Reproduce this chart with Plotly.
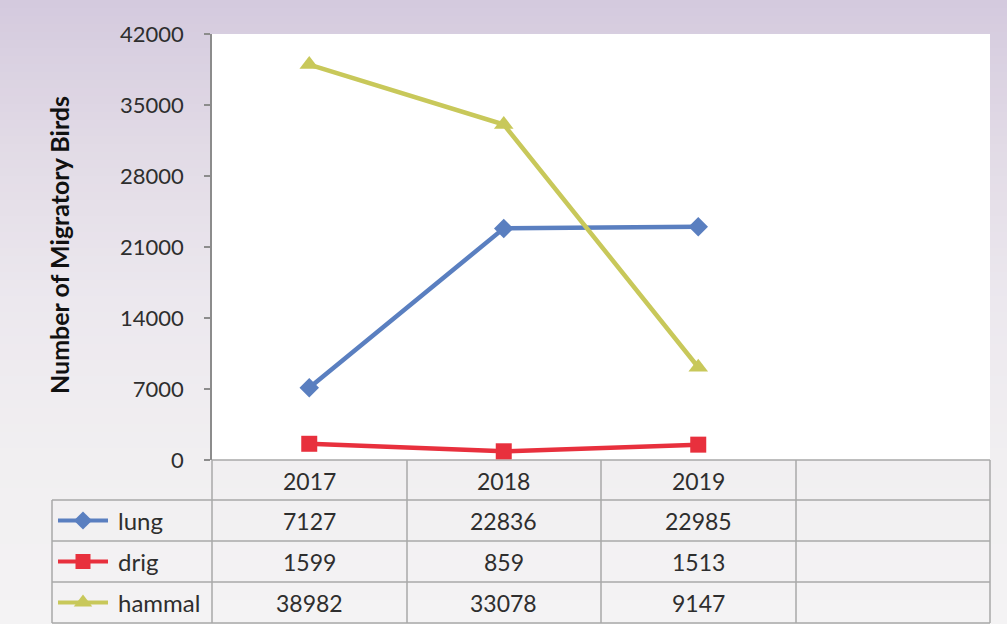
import plotly.graph_objects as go

years = ["2017", "2018", "2019"]
lung = [7127, 22836, 22985]
drig = [1599, 859, 1513]
hammal = [38982, 33078, 9147]
series_names = ["lung", "drig", "hammal"]
y_ticks = [0, 7000, 14000, 21000, 28000, 35000, 42000]
y_title = "Number of Migratory Birds"

W, H = 1007, 624
PX0, PX1, PY0, PY1 = 212, 990, 34, 460  # plot area in pixels
LX0, LX1, LY0, LY1 = 52, 212, 500, 623   # legend column of the table

colors = {"lung": "#5a7fc0", "drig": "#e8303d", "hammal": "#c8c85a"}
symbols = {"lung": "diamond", "drig": "square", "hammal": "triangle-up"}
msizes = {"lung": 15, "drig": 16, "hammal": 17}
values = {"lung": lung, "drig": drig, "hammal": hammal}

FONT = "Lato"
TXT = "#2e2e2e"


def px(x):
    return x / W


def py(y):
    return 1 - y / H


fig = go.Figure()

for name in series_names:
    fig.add_trace(go.Scatter(
        x=years, y=values[name], name=name, mode="lines+markers",
        line=dict(color=colors[name], width=4.5),
        marker=dict(symbol=symbols[name], size=msizes[name], color=colors[name]),
        xaxis="x", yaxis="y", cliponaxis=False, showlegend=False))

# legend keys in the data table (pixel axes over the legend column)
row_y = {"lung": 520.5, "drig": 561.5, "hammal": 602.5}
for name in series_names:
    fig.add_trace(go.Scatter(
        x=[58, 108], y=[row_y[name], row_y[name]], mode="lines",
        line=dict(color=colors[name], width=4), xaxis="x2", yaxis="y2",
        showlegend=False, hoverinfo="skip", cliponaxis=False))
    fig.add_trace(go.Scatter(
        x=[83], y=[row_y[name]], mode="markers",
        marker=dict(symbol=symbols[name], size=msizes[name] - 1, color=colors[name]),
        xaxis="x2", yaxis="y2", showlegend=False, hoverinfo="skip", cliponaxis=False))

shapes = []
# background gradient strips
stops = [(0, (212, 202, 222)), (150, (226, 219, 230)), (300, (236, 232, 238)),
         (460, (241, 239, 241)), (624, (244, 243, 244))]


def col_at(y):
    for (y0, c0), (y1, c1) in zip(stops[:-1], stops[1:]):
        if y0 <= y <= y1:
            t = (y - y0) / (y1 - y0)
            return "rgb(%d,%d,%d)" % tuple(round(a + (b - a) * t) for a, b in zip(c0, c1))
    return "rgb(244,243,244)"


step = 8
for y in range(0, H, step):
    shapes.append(dict(type="rect", xref="paper", yref="paper", x0=0, x1=1,
                       y0=py(y + step + 0.5), y1=py(y),
                       fillcolor=col_at(y + step / 2), line=dict(width=0), layer="below"))
# white plot area
shapes.append(dict(type="rect", xref="paper", yref="paper", x0=px(PX0), x1=px(PX1),
                   y0=py(PY1), y1=py(PY0), fillcolor="white", line=dict(width=0),
                   layer="below"))

# table grid
gc = "#a8a8a8"
row_lines = [460, 500, 541, 582, 623]
col_lines = [52, 212, 407, 601, 796, 990]
for i, yl in enumerate(row_lines):
    x0 = 212 if i == 0 else 52
    shapes.append(dict(type="line", xref="paper", yref="paper", x0=px(x0), x1=px(990),
                       y0=py(yl), y1=py(yl), line=dict(color=gc, width=1.5), layer="below"))
for j, xl in enumerate(col_lines):
    y0 = 500 if j == 0 else 460
    shapes.append(dict(type="line", xref="paper", yref="paper", x0=px(xl), x1=px(xl),
                       y0=py(y0), y1=py(623), line=dict(color=gc, width=1.5), layer="below"))

cell_font = dict(family=FONT, size=23, color=TXT)
name_font = dict(family=FONT, size=24, color=TXT)
annotations = []
for i, yr in enumerate(years):
    annotations.append(dict(x=i, y=py(480.5), xref="x", yref="paper", text=yr,
                            showarrow=False, xanchor="center", yanchor="middle",
                            font=cell_font))
for name in series_names:
    annotations.append(dict(x=px(116), y=py(row_y[name]), xref="paper", yref="paper",
                            text=name, showarrow=False, xanchor="left", yanchor="middle",
                            font=name_font))
    for i, v in enumerate(values[name]):
        annotations.append(dict(x=i, y=py(row_y[name]), xref="x", yref="paper",
                                text=str(v), showarrow=False, xanchor="center",
                                yanchor="middle", font=cell_font))
annotations.append(dict(x=px(59), y=py(245), xref="paper", yref="paper",
                        text="<b>%s</b>" % y_title, textangle=-90, showarrow=False,
                        xanchor="center", yanchor="middle",
                        font=dict(family=FONT, size=25, color="#111111")))

fig.update_layout(
    width=W, height=H,
    margin=dict(l=0, r=0, t=0, b=0, pad=0),
    paper_bgcolor="rgb(240,237,241)", plot_bgcolor="rgba(0,0,0,0)",
    showlegend=False,
    shapes=shapes, annotations=annotations,
    xaxis=dict(domain=[px(PX0), px(PX1)], type="category", categoryarray=years,
               range=[-0.5, 3.5], showticklabels=False, ticks="", showgrid=False,
               zeroline=False, showline=False, anchor="y", fixedrange=True),
    yaxis=dict(domain=[py(PY1), py(PY0)], range=[0, 42000], tickvals=y_ticks,
               ticktext=[str(t) for t in y_ticks], ticks="outside", ticklen=6,
               tickcolor="#8c8c8c", tickwidth=1.5, showline=True, linecolor="#8c8c8c",
               linewidth=1.5, showgrid=False, zeroline=False, ticklabelstandoff=16,
               tickfont=dict(family=FONT, size=22, color=TXT), automargin=False,
               anchor="x", fixedrange=True),
    xaxis2=dict(domain=[px(LX0), px(LX1)], range=[LX0, LX1], visible=False,
                anchor="y2", fixedrange=True),
    yaxis2=dict(domain=[py(LY1), py(LY0)], range=[LY1, LY0], visible=False,
                anchor="x2", fixedrange=True),
)

fig.write_html("out.html", config={"displayModeBar": False},
               post_script="document.body.style.margin='0';")
